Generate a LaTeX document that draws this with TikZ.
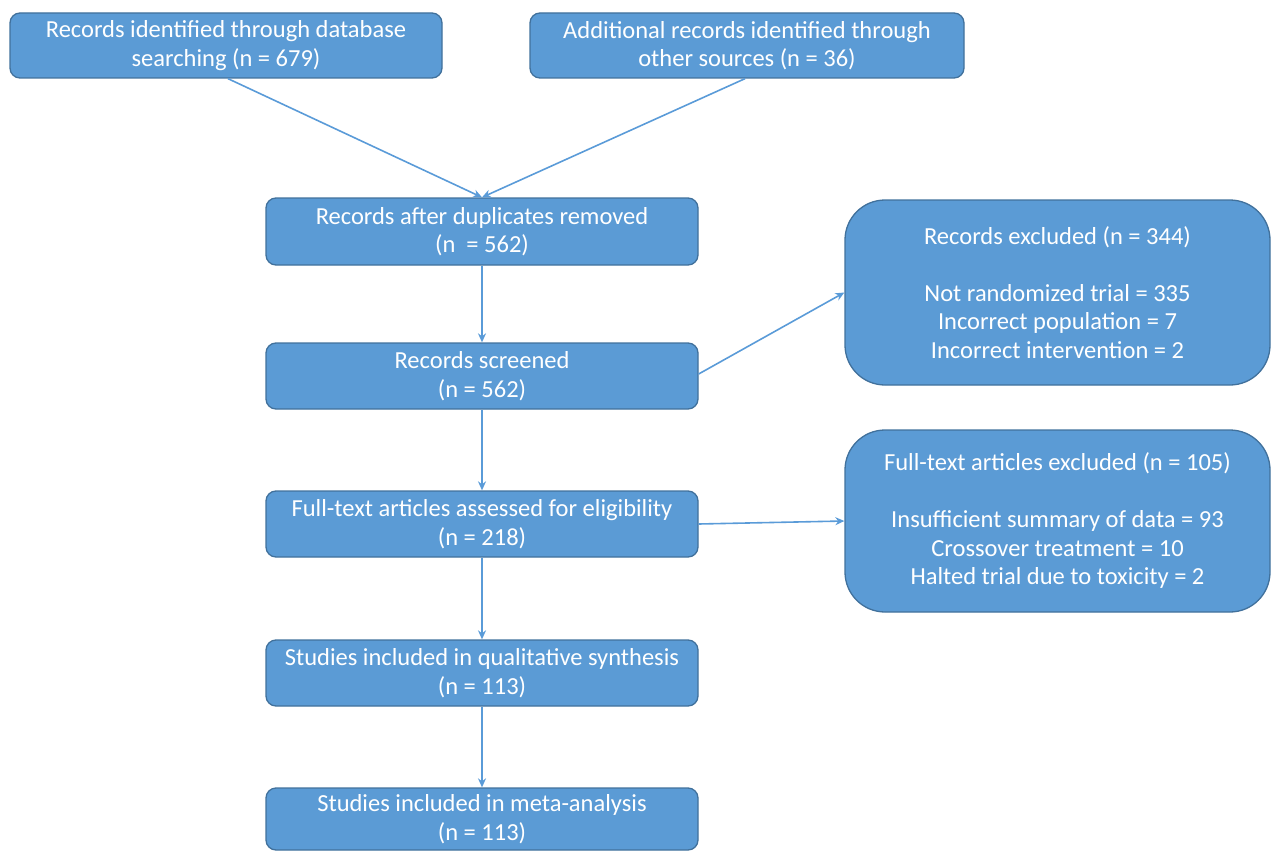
\documentclass[tikz,border=0pt]{standalone}
\usepackage{fontspec}
\setmainfont{Carlito}
\usetikzlibrary{arrows.meta}
\definecolor{boxfill}{HTML}{5B9BD5}
\definecolor{boxline}{HTML}{41719C}
\definecolor{arrowc}{HTML}{5A9BD8}
\begin{document}
\begin{tikzpicture}[x=1pt,y=-1pt,
  box/.style={draw=boxline,line width=1.3pt,fill=boxfill,rounded corners=10pt,
    text=white,align=center,inner sep=0pt,
    font=\fontsize{24.5}{28.5}\selectfont},
  bigbox/.style={box,rounded corners=40pt},
  conn/.style={draw=arrowc,line width=1.6pt,-{Stealth[length=9pt,width=8pt]}}]
\useasboundingbox (0,0) rectangle (1272,851);
\node[box,minimum width=432pt,minimum height=65pt] (A) at (226,45.5)
  {Records identified through database\\searching (n = 679)};
\node[box,minimum width=434pt,minimum height=65pt] (B) at (747,45.5)
  {Additional records identified through\\other sources (n = 36)};
\node[box,minimum width=432pt,minimum height=67pt] (C) at (482,231.5)
  {Records after duplicates removed\\(n\ \ = 562)};
\node[box,minimum width=432pt,minimum height=66pt] (D) at (482,376)
  {Records screened\\(n = 562)};
\node[box,minimum width=432pt,minimum height=66pt] (E) at (482,524)
  {Full-text articles assessed for eligibility\\(n = 218)};
\node[box,minimum width=432pt,minimum height=66pt] (F) at (482,673)
  {Studies included in qualitative synthesis\\(n = 113)};
\node[box,minimum width=432pt,minimum height=62pt] (G) at (482,819)
  {Studies included in meta-analysis\\(n = 113)};
\node[bigbox,minimum width=425pt,minimum height=185pt] (R1) at (1057.5,292.5)
  {Records excluded (n = 344)\\[28.5pt]Not randomized trial = 335\\Incorrect population = 7\\Incorrect intervention = 2};
\node[bigbox,minimum width=425pt,minimum height=182pt] (R2) at (1057.5,521)
  {Full-text articles excluded (n = 105)\\[28.5pt]Insufficient summary of data = 93\\Crossover treatment = 10\\Halted trial due to toxicity = 2};
\draw[conn] ([xshift=2pt]A.south) -- (C.north);
\draw[conn] ([xshift=-2pt]B.south) -- (C.north);
\draw[conn] (C) -- (D);
\draw[conn] (D) -- (E);
\draw[conn] (E) -- (F);
\draw[conn] (F) -- (G);
\draw[conn] ([yshift=2pt]D.east) -- (R1.west);
\draw[conn] (E.east) -- (R2.west);
\end{tikzpicture}
\end{document}
